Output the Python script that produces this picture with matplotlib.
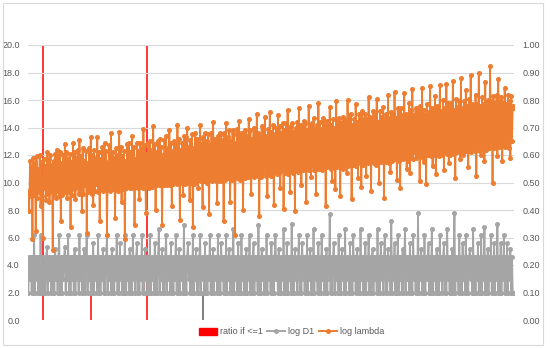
import numpy as np
import matplotlib.pyplot as plt
from matplotlib.patches import Patch, Rectangle
from matplotlib.lines import Line2D

# log lambda (left axis), read left to right, 30 points per row
log_lambda = [
    9.4, 7.9, 11.6, 9.0, 11.2, 5.9, 11.8, 9.1, 11.4, 6.5, 11.9, 8.9, 11.0, 9.3, 12.0, 8.3, 11.5, 9.0, 6.0, 11.7, 9.6, 11.2, 8.7, 12.2, 9.2, 11.7, 8.6, 12.0, 9.4, 11.3,
    5.1, 11.6, 9.2, 12.1, 8.9, 12.4, 9.4, 11.9, 9.0, 12.2, 7.2, 11.4, 9.1, 12.0, 9.3, 12.8, 9.6, 12.2, 8.9, 11.7, 9.3, 12.1, 6.8, 11.5, 9.1, 12.9, 9.5, 12.2, 8.8, 11.8,
    9.7, 12.4, 9.2, 13.1, 9.3, 11.9, 7.9, 12.5, 9.2, 11.6, 9.8, 12.3, 6.3, 11.4, 9.3, 12.5, 9.5, 13.3, 9.2, 12.0, 8.4, 12.4, 9.4, 11.8, 9.9, 13.3, 9.3, 12.2, 7.2, 11.7,
    9.5, 12.6, 9.4, 11.9, 12.9, 9.6, 12.3, 6.2, 11.5, 9.5, 12.7, 9.4, 13.6, 9.8, 12.2, 9.5, 11.8, 7.4, 12.5, 9.6, 12.0, 9.4, 13.7, 9.7, 12.6, 8.6, 11.9, 9.5, 12.3, 5.9,
    11.6, 9.6, 12.8, 9.7, 12.9, 9.6, 12.2, 9.9, 13.4, 9.6, 12.6, 6.9, 11.7, 9.7, 12.9, 9.6, 12.3, 8.8, 12.9, 9.7, 12.5, 9.6, 13.9, 10.0, 12.7, 7.8, 12.1, 9.7, 12.9, 9.6,
    13.0, 9.8, 12.4, 9.7, 14.1, 9.8, 12.8, 8.0, 12.2, 9.8, 13.0, 9.9, 13.2, 9.8, 12.6, 6.9, 12.0, 9.8, 13.1, 10.0, 13.4, 9.8, 12.5, 9.9, 13.8, 9.8, 12.9, 8.3, 12.3, 9.9,
    13.0, 10.1, 12.7, 9.9, 14.2, 10.0, 13.2, 7.3, 12.4, 10.0, 12.9, 9.1, 13.4, 9.9, 13.3, 10.2, 14.0, 10.0, 12.6, 8.7, 13.1, 10.0, 13.5, 6.8, 12.5, 9.9, 13.6, 10.1, 13.2, 9.6,
    13.2, 10.2, 14.2, 10.1, 12.8, 8.2, 13.3, 10.1, 13.6, 10.3, 13.0, 10.0, 13.5, 7.7, 12.7, 10.2, 13.6, 10.1, 14.4, 10.4, 13.2, 10.1, 12.9, 8.5, 13.4, 10.1, 13.6, 10.3, 13.5, 10.1,
    13.1, 7.2, 13.6, 10.2, 14.3, 10.5, 13.3, 10.3, 13.8, 8.6, 13.0, 10.2, 13.8, 10.4, 13.5, 6.2, 12.9, 10.3, 13.9, 10.5, 14.5, 10.2, 13.6, 10.4, 13.3, 8.0, 13.7, 10.3, 13.8, 10.6,
    13.4, 10.4, 14.6, 10.5, 13.8, 9.2, 13.2, 10.6, 14.0, 10.4, 13.9, 10.7, 15.0, 10.5, 13.6, 7.6, 13.3, 10.4, 14.1, 10.6, 13.8, 10.9, 14.8, 10.5, 13.4, 9.0, 13.9, 10.7, 15.1, 10.5,
    13.7, 10.6, 14.2, 8.4, 13.5, 10.8, 14.0, 10.6, 14.9, 10.7, 14.1, 9.6, 13.6, 10.9, 14.3, 8.1, 13.8, 10.7, 14.3, 10.8, 15.3, 10.6, 13.9, 9.3, 14.1, 10.8, 14.3, 10.7, 13.7, 7.9,
    14.0, 10.9, 14.4, 10.8, 15.4, 11.0, 14.2, 9.8, 13.9, 10.9, 14.5, 11.1, 14.3, 8.6, 13.8, 11.0, 15.6, 10.9, 14.1, 10.4, 14.3, 11.2, 14.7, 10.9, 13.9, 9.2, 14.2, 11.0, 15.8, 11.1,
    14.4, 11.0, 13.9, 10.9, 14.7, 11.2, 14.5, 8.3, 14.1, 11.1, 14.5, 11.3, 15.5, 11.0, 14.2, 10.1, 14.6, 11.2, 14.0, 9.5, 15.9, 11.1, 14.5, 11.3, 14.7, 9.0, 14.3, 11.2, 14.8, 11.0,
    14.6, 11.3, 14.4, 10.7, 16.0, 11.2, 14.9, 11.4, 15.0, 8.8, 14.2, 11.3, 14.6, 11.5, 15.7, 11.2, 14.4, 10.3, 15.0, 11.4, 14.7, 9.7, 15.2, 11.3, 14.5, 11.5, 15.0, 10.5, 14.6, 11.4,
    16.2, 11.5, 14.8, 9.4, 14.5, 11.6, 15.2, 11.4, 14.9, 11.3, 16.1, 11.6, 14.4, 10.0, 15.2, 11.5, 14.8, 11.7, 15.5, 8.9, 14.6, 11.5, 15.0, 11.6, 16.4, 11.4, 14.7, 10.8, 15.1, 11.6,
    15.0, 11.7, 16.6, 11.8, 14.7, 10.2, 15.4, 11.6, 15.1, 9.6, 15.4, 11.9, 14.9, 11.7, 16.5, 11.8, 15.0, 11.0, 14.8, 11.6, 15.8, 10.7, 15.3, 11.8, 16.8, 11.7, 14.9, 12.2, 15.4, 11.8,
    15.2, 11.9, 15.2, 10.1, 15.6, 12.0, 16.9, 11.8, 15.3, 11.5, 14.9, 9.9, 15.7, 12.0, 15.1, 12.1, 17.0, 11.9, 15.4, 11.2, 15.2, 12.0, 16.3, 10.6, 15.6, 12.1, 15.3, 11.9, 17.1, 12.0,
    15.2, 12.1, 16.0, 10.9, 15.4, 12.2, 17.2, 12.1, 15.8, 11.4, 15.5, 12.0, 15.8, 12.3, 17.4, 12.1, 15.3, 10.3, 16.1, 12.2, 15.5, 12.4, 15.9, 11.7, 17.6, 12.2, 15.4, 12.0, 15.9, 12.3,
    16.7, 12.3, 15.6, 11.1, 16.1, 12.4, 17.8, 12.2, 15.7, 12.6, 15.5, 12.3, 16.4, 10.5, 15.7, 12.4, 18.0, 12.3, 15.6, 12.0, 16.2, 12.5, 15.7, 11.6, 17.3, 12.4, 15.8, 12.6, 16.0, 12.5,
    18.5, 12.6, 15.9, 10.0, 16.3, 12.5, 15.8, 12.7, 16.4, 11.9, 17.5, 12.6, 15.9, 12.8, 16.2, 11.6, 15.8, 12.7, 16.9, 12.6, 15.7, 12.9, 16.4, 12.5, 15.9, 11.8, 16.3, 13.0, 15.6, 15.4,
]

# log D1 (left axis)
log_d1 = [
    2.0, 4.6, 3.0, 4.6, 2.0, 4.6, 2.0, 6.2, 2.0, 4.6, 3.0, 4.6, 2.0, 4.6, 2.0, 6.2, 2.0, 4.6, 2.0, 3.0, 4.6, 2.0, 4.6, 5.3, 2.0, 4.6, 3.0, 4.6, 2.0, 4.6,
    2.0, 4.6, 2.0, 5.2, 3.0, 4.6, 2.0, 4.6, 6.2, 2.0, 4.6, 2.0, 4.6, 3.0, 4.6, 5.3, 2.0, 4.6, 3.0, 6.2, 2.0, 4.6, 2.0, 4.6, 3.0, 4.6, 2.0, 5.2, 2.0, 4.6,
    3.0, 4.6, 2.0, 6.2, 3.0, 4.6, 2.0, 4.6, 2.0, 5.2, 2.0, 4.6, 6.2, 2.0, 4.6, 3.0, 4.6, 2.0, 4.6, 2.0, 5.6, 2.0, 4.6, 3.0, 4.6, 2.0, 6.2, 2.0, 4.6, 2.0,
    4.6, 3.0, 5.2, 2.0, 4.6, 2.0, 4.6, 6.2, 2.0, 4.6, 3.0, 4.6, 2.0, 5.2, 2.0, 4.6, 2.0, 4.6, 3.0, 6.2, 2.0, 4.6, 2.0, 5.6, 3.0, 4.6, 2.0, 4.6, 2.0, 6.2,
    2.0, 4.6, 3.0, 4.6, 2.0, 5.2, 2.0, 4.6, 2.0, 6.2, 3.0, 4.6, 2.0, 4.6, 5.6, 2.0, 4.6, 2.0, 4.6, 3.0, 6.2, 2.0, 4.6, 2.0, 5.2, 3.0, 4.6, 2.0, 4.6, 2.0,
    6.2, 2.0, 4.6, 3.0, 4.6, 2.0, 5.6, 2.0, 4.6, 2.0, 4.6, 6.6, 2.0, 4.6, 3.0, 5.2, 2.0, 4.6, 2.0, 4.6, 6.2, 2.0, 4.6, 3.0, 4.6, 2.0, 5.6, 2.0, 4.6, 2.0,
    4.6, 3.0, 6.2, 2.0, 4.6, 2.0, 5.2, 2.0, 4.6, 3.0, 4.6, 2.0, 6.9, 2.0, 4.6, 2.0, 4.6, 5.6, 3.0, 4.6, 2.0, 4.6, 2.0, 6.2, 2.0, 4.6, 3.0, 5.2, 2.0, 4.6,
    2.0, 4.6, 6.2, 2.0, 4.6, 3.0, 4.6, 2.0, 5.6, 2.0, 4.6, 2.0, 4.6, 3.0, 6.2, 2.0, 4.6, 2.0, 5.2, 2.0, 4.6, 3.0, 4.6, 2.0, 6.2, 2.0, 4.6, 2.0, 5.6, 3.0,
    4.6, 2.0, 4.6, 2.0, 6.2, 2.0, 4.6, 3.0, 5.2, 2.0, 4.6, 2.0, 4.6, 6.6, 2.0, 4.6, 3.0, 4.6, 2.0, 5.6, 2.0, 4.6, 2.0, 6.2, 3.0, 4.6, 2.0, 4.6, 2.0, 5.2,
    2.0, 4.6, 3.0, 6.2, 2.0, 4.6, 2.0, 4.6, 5.6, 2.0, 4.6, 3.0, 4.6, 2.0, 6.9, 2.0, 4.6, 2.0, 5.2, 3.0, 4.6, 2.0, 4.6, 2.0, 6.2, 2.0, 4.6, 3.0, 4.6, 2.0,
    5.6, 2.0, 4.6, 2.0, 4.6, 6.2, 3.0, 4.6, 2.0, 5.2, 2.0, 4.6, 2.0, 4.6, 3.0, 6.6, 2.0, 4.6, 2.0, 5.6, 2.0, 4.6, 3.0, 4.6, 2.0, 7.0, 2.0, 4.6, 2.0, 5.2,
    3.0, 4.6, 2.0, 4.6, 6.2, 2.0, 4.6, 2.0, 5.6, 3.0, 4.6, 2.0, 4.6, 2.0, 6.2, 2.0, 4.6, 3.0, 5.2, 2.0, 4.6, 2.0, 6.6, 2.0, 4.6, 3.0, 4.6, 2.0, 5.6, 2.0,
    4.6, 2.0, 6.2, 3.0, 4.6, 2.0, 4.6, 2.0, 5.2, 2.0, 4.6, 3.0, 7.7, 2.0, 4.6, 2.0, 4.6, 5.6, 2.0, 4.6, 3.0, 4.6, 2.0, 6.2, 2.0, 4.6, 2.0, 5.2, 3.0, 4.6,
    2.0, 6.6, 2.0, 4.6, 3.0, 4.6, 2.0, 5.6, 2.0, 4.6, 2.0, 6.2, 3.0, 4.6, 2.0, 4.6, 5.2, 2.0, 4.6, 2.0, 6.6, 3.0, 4.6, 2.0, 4.6, 2.0, 5.6, 2.0, 4.6, 3.0,
    6.2, 2.0, 4.6, 2.0, 4.6, 5.2, 2.0, 4.6, 3.0, 4.6, 2.0, 6.6, 2.0, 4.6, 2.0, 5.6, 3.0, 4.6, 2.0, 4.6, 6.2, 2.0, 4.6, 2.0, 5.2, 3.0, 4.6, 2.0, 7.2, 2.0,
    4.6, 3.0, 5.6, 2.0, 4.6, 2.0, 6.2, 2.0, 4.6, 3.0, 4.6, 2.0, 5.2, 2.0, 4.6, 6.6, 2.0, 4.6, 3.0, 4.6, 2.0, 5.6, 2.0, 4.6, 2.0, 6.2, 3.0, 4.6, 2.0, 4.6,
    2.0, 7.8, 2.0, 4.6, 3.0, 5.2, 2.0, 4.6, 2.0, 6.2, 2.0, 4.6, 3.0, 4.6, 5.6, 2.0, 4.6, 2.0, 6.6, 2.0, 4.6, 3.0, 4.6, 2.0, 5.2, 2.0, 4.6, 2.0, 6.2, 3.0,
    4.6, 2.0, 4.6, 5.6, 2.0, 4.6, 2.0, 6.6, 3.0, 4.6, 2.0, 4.6, 2.0, 5.2, 2.0, 4.6, 7.8, 2.0, 4.6, 3.0, 4.6, 2.0, 6.2, 2.0, 4.6, 2.0, 5.6, 3.0, 4.6, 2.0,
    6.2, 2.0, 4.6, 2.0, 4.6, 5.2, 3.0, 4.6, 2.0, 6.6, 2.0, 4.6, 2.0, 4.6, 3.0, 5.6, 2.0, 4.6, 2.0, 6.2, 2.0, 4.6, 3.0, 6.8, 2.0, 4.6, 2.0, 5.2, 2.0, 4.6,
    3.0, 6.2, 2.0, 4.6, 2.0, 5.6, 2.0, 4.6, 3.0, 7.0, 2.0, 4.6, 2.0, 5.6, 2.0, 4.6, 3.0, 6.2, 2.0, 4.6, 2.0, 5.6, 2.0, 4.6, 3.0, 5.2, 2.0, 4.6, 2.0, 2.0,
]

# ratio if <=1 (right axis): only a few categories have a bar
ratio_idx = [18, 77, 147, 216]
ratio_val = [1.0, 0.1, 1.0, 0.1]
ratio_col = ['#FF0000', '#FF0000', '#FF0000', '#595959']

left_ticks = np.arange(0, 20.1, 2.0)
right_ticks = np.arange(0, 1.01, 0.1)

orange = '#ED7D31'
grey = '#A5A5A5'
txt = '#595959'
plt.rcParams['font.family'] = ['Liberation Sans', 'DejaVu Sans']

fig = plt.figure(figsize=(5.5, 3.48), dpi=100)
ax = fig.add_axes([28/550, 1-320/348, 486/550, 275/348])
ax2 = ax.twinx()

x = np.arange(len(log_lambda))
ax2.vlines(ratio_idx, 0, ratio_val, colors=ratio_col, lw=1.1)
ax.plot(x, log_d1, color=grey, lw=1.3, marker='o', ms=2.6, zorder=3)
ax.plot(x, log_lambda, color=orange, lw=1.3, marker='o', ms=2.6, zorder=4)

# lines go over the bars of the twin axis
ax.set_zorder(ax2.get_zorder() + 1)
ax.patch.set_visible(False)

ax.set_xlim(-0.5, len(x) - 0.5)
ax.set_ylim(0, 20)
ax2.set_ylim(0, 1)
ax.set_yticks(left_ticks)
ax.set_yticklabels([f'{v:.1f}' for v in left_ticks])
ax2.set_yticks(right_ticks)
ax2.set_yticklabels([f'{v:.2f}' for v in right_ticks])
ax.set_xticks([])
ax.grid(axis='y', color='#D9D9D9', lw=0.8)
ax.set_axisbelow(True)
for a in (ax, ax2):
    for s in a.spines.values():
        s.set_visible(False)
    a.tick_params(length=0, labelsize=6.5, labelcolor=txt, pad=6)

handles = [Patch(color='#FF0000'),
           Line2D([], [], color=grey, lw=1.4, marker='o', ms=2.6),
           Line2D([], [], color=orange, lw=1.4, marker='o', ms=2.6)]
fig.legend(handles, ['ratio if <=1', 'log D1', 'log lambda'], loc='center',
           bbox_to_anchor=(0.53, 1-332/348), ncol=3, frameon=False, fontsize=6.5,
           labelcolor=txt, handlelength=2.0, handletextpad=0.3, columnspacing=0.5)

fig.patches.append(Rectangle((3/550, 3/348), 540/550, 342/348, transform=fig.transFigure,
                             fill=False, edgecolor='#D9D9D9', lw=0.8))

fig.savefig('out.png', dpi=100)
